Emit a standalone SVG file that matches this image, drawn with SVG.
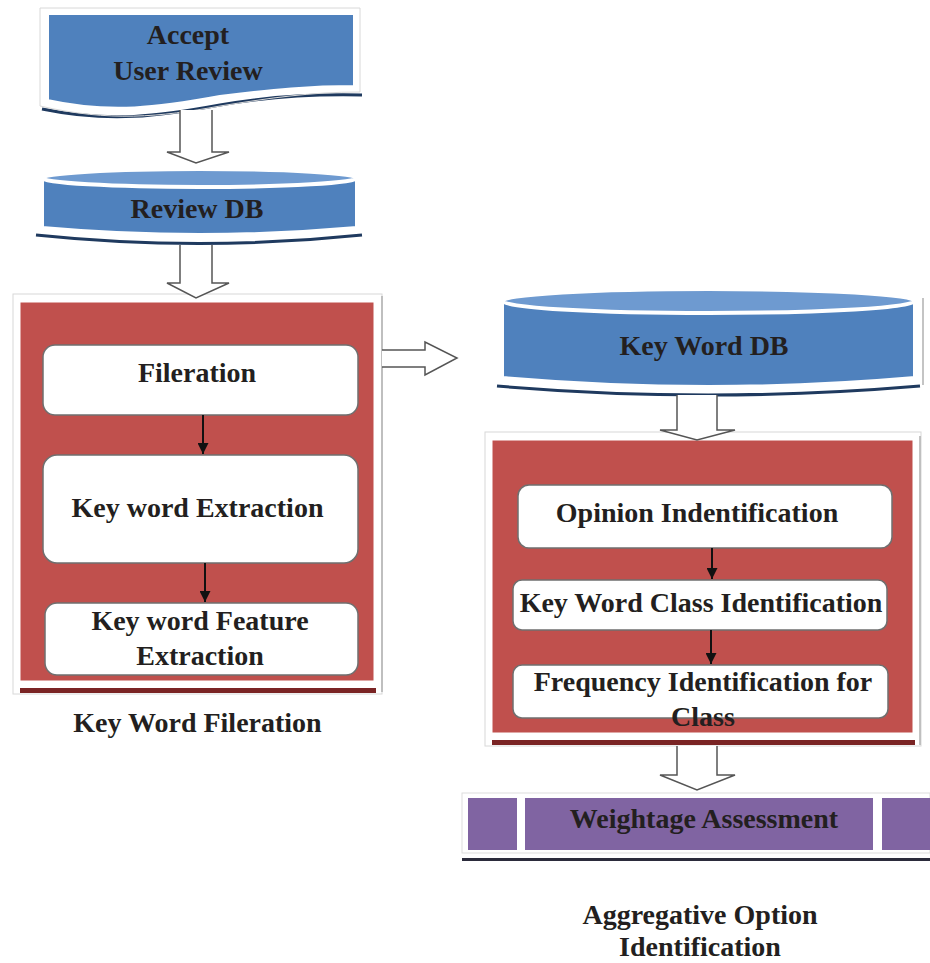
<svg xmlns="http://www.w3.org/2000/svg" width="930" height="963" viewBox="0 0 930 963">
<style>
text{font-family:"Liberation Serif","Times New Roman",serif;font-weight:bold;font-size:28px;fill:#231F20;text-anchor:middle}
.blue{fill:#4F81BD;stroke:#ffffff;stroke-width:4}
.top{fill:#6E9AD0;stroke:#ffffff;stroke-width:4}
.navy{fill:none;stroke:#1F3A5F;stroke-width:3}
.red{fill:#C0504D;stroke:#ffffff;stroke-width:5}
.frame{fill:none;stroke:#d8d8d8;stroke-width:1}
.stripe{fill:#7A2424}
.box{fill:#ffffff;stroke:#6f6f6f;stroke-width:1.5}
.purple{fill:#8064A2}
.block{fill:#ffffff;stroke:#555555;stroke-width:1.5;stroke-linejoin:miter}
.thin{stroke:#111111;stroke-width:2;fill:none}
.vline{stroke:#b0b0b0;stroke-width:1.5}
</style>
<defs>
<marker id="ah" markerWidth="11" markerHeight="11" refX="11" refY="5.5" orient="auto" markerUnits="userSpaceOnUse" viewBox="0 0 11 11">
<path d="M0,0 L11,5.5 L0,11 Z" fill="#111111"/>
</marker>
</defs>
<rect width="930" height="963" fill="#ffffff"/>

<g id="accept-user-review">
<path class="navy" d="M42,109 C110,123 160,116 220,105 C270,96 315,94 362,95"/>
<path class="frame" d="M40,8 H360 V92 C310,92 270,98 220,106 C160,117 110,122 40,106 Z"/>
<path class="blue" d="M47,13 H355 V87 C310,87 275,90 220,97 C160,108 110,115 47,101 Z"/>
<text x="188" y="44">Accept</text>
<text x="188" y="80">User Review</text>
</g>

<g id="review-db">
<path class="navy" d="M36,235 Q199,252 362,235"/>
<path class="blue" d="M42,178 V228 Q199.5,242 357,228 V178 Z"/>
<ellipse class="top" cx="199.5" cy="178" rx="157.5" ry="9"/>
<text x="197" y="218">Review DB</text>
</g>

<g id="key-word-fileration">
<rect class="frame" x="13" y="294" width="369" height="400"/>
<rect class="red" x="18" y="300" width="358" height="383"/>
<rect class="stripe" x="20" y="688" width="356" height="5"/>
<line class="vline" x1="382" y1="296" x2="382" y2="692"/>
<text x="197.5" y="732">Key Word Fileration</text>
</g>

<g id="fileration">
<rect class="box" x="43" y="345" width="315" height="70" rx="12"/>
<text x="197" y="382">Fileration</text>
</g>

<g id="key-word-extraction">
<rect class="box" x="43" y="455" width="315" height="108" rx="14"/>
<text x="197.5" y="517">Key word Extraction</text>
</g>

<g id="key-word-feature-extraction">
<rect class="box" x="45" y="603" width="313" height="72" rx="12"/>
<text x="200" y="630">Key word Feature</text>
<text x="200" y="665">Extraction</text>
</g>

<g id="key-word-db">
<path class="navy" d="M497,386 Q708,404 920,386"/>
<path class="blue" d="M502,301 V378 Q708.5,396 915,378 V301 Z"/>
<ellipse class="top" cx="708.5" cy="301" rx="206.5" ry="12"/>
<line class="vline" x1="923" y1="298" x2="923" y2="385"/>
<text x="704" y="355">Key Word DB</text>
</g>

<g id="aggregative-option-identification">
<rect class="frame" x="485" y="432" width="436" height="314"/>
<rect class="red" x="490" y="438" width="425" height="297"/>
<rect class="stripe" x="492" y="740" width="423" height="5"/>
<line class="vline" x1="920" y1="436" x2="920" y2="745"/>
<text x="700" y="924">Aggregative Option</text>
<text x="700" y="956">Identification</text>
</g>

<g id="opinion-identification">
<rect class="box" x="518" y="485" width="374" height="63" rx="11"/>
<text x="697" y="522">Opinion Indentification</text>
</g>

<g id="key-word-class-identification">
<rect class="box" x="513" y="580" width="374" height="50" rx="9"/>
<text x="701" y="612">Key Word Class Identification</text>
</g>

<g id="frequency-identification">
<rect class="box" x="513" y="665" width="375" height="53" rx="9"/>
<text x="703" y="691">Frequency Identification for</text>
<text x="703" y="726">Class</text>
</g>

<g id="weightage-assessment">
<rect x="462" y="793" width="468" height="60" fill="#ffffff" stroke="#dddddd" stroke-width="1"/>
<rect class="purple" x="468" y="798" width="49" height="52"/>
<rect class="purple" x="525" y="798" width="348" height="52"/>
<rect class="purple" x="882" y="798" width="48" height="52"/>
<rect x="462" y="858" width="468" height="3" fill="#2B2B3B"/>
<text x="704" y="828">Weightage Assessment</text>
</g>

<g id="connectors">
<path class="block" d="M180,110 V152 H167 L196,163 L229,152 H212 V110"/>
<path class="block" d="M180,245 V283 H167 L196,298 L229,283 H212 V245"/>
<path class="block" d="M382,350 H425 V342 L457,358 L425,375 V367 H382"/>
<path class="block" d="M677,395 V430 H660 L697,440 L735,430 H717 V395"/>
<path class="block" d="M677,746 V775 H660 L697,790 L735,775 H717 V746"/>
<line class="thin" x1="203" y1="415" x2="203" y2="454" marker-end="url(#ah)"/>
<line class="thin" x1="205" y1="563" x2="205" y2="602" marker-end="url(#ah)"/>
<line class="thin" x1="712" y1="548" x2="712" y2="579" marker-end="url(#ah)"/>
<line class="thin" x1="711" y1="630" x2="711" y2="664" marker-end="url(#ah)"/>
</g>
</svg>
